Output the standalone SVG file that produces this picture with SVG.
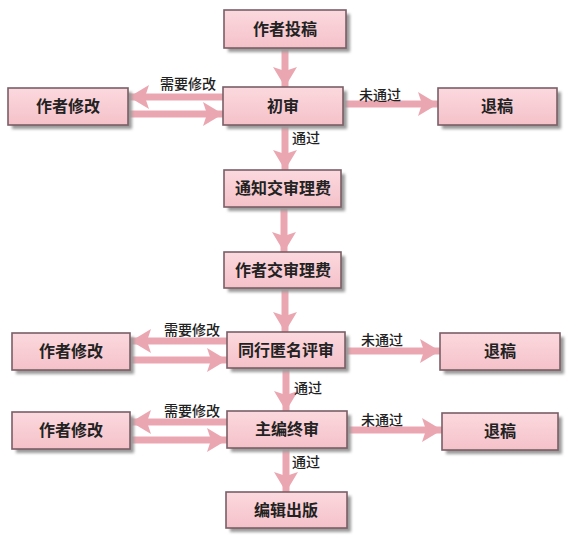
<svg xmlns="http://www.w3.org/2000/svg" width="578" height="539" viewBox="0 0 578 539">
<style>
.box rect.b{fill:url(#g);stroke:#7a5e66;stroke-width:1.6}
.box rect.s{fill:#9a9a9a;filter:url(#blur)}
.bt{font-family:"Noto Sans CJK SC","Noto Sans",sans-serif;font-size:16px;font-weight:bold;fill:#222;text-anchor:middle}
.lb{font-family:"Noto Sans CJK SC","Noto Sans",sans-serif;font-size:14px;font-weight:500;fill:#222;text-anchor:middle}
.c line{stroke:#eba7b1;stroke-width:7;marker-end:url(#ah)}
</style>
<defs>
<linearGradient id="g" x1="0" y1="0" x2="0" y2="1">
<stop offset="0" stop-color="#fbd9de"/>
<stop offset="1" stop-color="#f5c1c9"/>
</linearGradient>
<filter id="blur" x="-10%" y="-20%" width="120%" height="140%"><feGaussianBlur stdDeviation="1.5"/></filter>
<marker id="ah" markerUnits="userSpaceOnUse" markerWidth="22" markerHeight="24" refX="20" refY="12" orient="auto">
<path d="M0,0 L20,12 L0,24 L4,12 z" fill="#eba7b1"/>
</marker>
</defs>
<rect width="578" height="539" fill="#ffffff"/>
<g class="c" id="connectors">
<line x1="285" y1="48" x2="285" y2="87"/>
<line x1="285" y1="125" x2="285" y2="170"/>
<line x1="284" y1="207" x2="284" y2="252"/>
<line x1="285" y1="288" x2="285" y2="332"/>
<line x1="286" y1="368" x2="286" y2="411"/>
<line x1="286" y1="448" x2="286" y2="492"/>
<line x1="223" y1="97" x2="129" y2="97"/>
<line x1="128" y1="114" x2="223" y2="114"/>
<line x1="343" y1="104" x2="438" y2="104"/>
<line x1="227" y1="341" x2="131" y2="341"/>
<line x1="130" y1="360" x2="227" y2="360"/>
<line x1="345" y1="351" x2="440" y2="351"/>
<line x1="227" y1="422" x2="131" y2="422"/>
<line x1="130" y1="440" x2="227" y2="440"/>
<line x1="347" y1="430" x2="442" y2="430"/>
</g>
<g id="labels">
<text class="lb" x="188" y="89">需要修改</text>
<text class="lb" x="380" y="100">未通过</text>
<text class="lb" x="306" y="143">通过</text>
<text class="lb" x="192" y="335">需要修改</text>
<text class="lb" x="382" y="345">未通过</text>
<text class="lb" x="308" y="393">通过</text>
<text class="lb" x="192" y="416">需要修改</text>
<text class="lb" x="382" y="425">未通过</text>
<text class="lb" x="306" y="467">通过</text>
</g>
<g class="box" id="n1"><rect class="s" x="228" y="14" width="122" height="38"/><rect class="b" x="224" y="10" width="122" height="38"/><text class="bt" x="285" y="35">作者投稿</text></g>
<g class="box" id="n2"><rect class="s" x="227" y="91" width="120" height="38"/><rect class="b" x="223" y="87" width="120" height="38"/><text class="bt" x="283" y="112">初审</text></g>
<g class="box" id="n3"><rect class="s" x="12" y="92" width="120" height="37"/><rect class="b" x="8" y="88" width="120" height="37"/><text class="bt" x="68" y="112">作者修改</text></g>
<g class="box" id="n4"><rect class="s" x="442" y="92" width="119" height="37"/><rect class="b" x="438" y="88" width="119" height="37"/><text class="bt" x="497" y="112">退稿</text></g>
<g class="box" id="n5"><rect class="s" x="228" y="174" width="117" height="37"/><rect class="b" x="224" y="170" width="117" height="37"/><text class="bt" x="283" y="194">通知交审理费</text></g>
<g class="box" id="n6"><rect class="s" x="228" y="256" width="117" height="36"/><rect class="b" x="224" y="252" width="117" height="36"/><text class="bt" x="283" y="276">作者交审理费</text></g>
<g class="box" id="n7"><rect class="s" x="16" y="337" width="118" height="37"/><rect class="b" x="12" y="333" width="118" height="37"/><text class="bt" x="71" y="357">作者修改</text></g>
<g class="box" id="n8"><rect class="s" x="231" y="336" width="118" height="36"/><rect class="b" x="227" y="332" width="118" height="36"/><text class="bt" x="286" y="356">同行匿名评审</text></g>
<g class="box" id="n9"><rect class="s" x="444" y="337" width="120" height="37"/><rect class="b" x="440" y="333" width="120" height="37"/><text class="bt" x="500" y="357">退稿</text></g>
<g class="box" id="n10"><rect class="s" x="16" y="416" width="118" height="37"/><rect class="b" x="12" y="412" width="118" height="37"/><text class="bt" x="71" y="436">作者修改</text></g>
<g class="box" id="n11"><rect class="s" x="231" y="415" width="120" height="37"/><rect class="b" x="227" y="411" width="120" height="37"/><text class="bt" x="287" y="435">主编终审</text></g>
<g class="box" id="n12"><rect class="s" x="446" y="417" width="116" height="37"/><rect class="b" x="442" y="413" width="116" height="37"/><text class="bt" x="500" y="437">退稿</text></g>
<g class="box" id="n13"><rect class="s" x="230" y="496" width="121" height="36"/><rect class="b" x="226" y="492" width="121" height="36"/><text class="bt" x="286" y="516">编辑出版</text></g>
</svg>
